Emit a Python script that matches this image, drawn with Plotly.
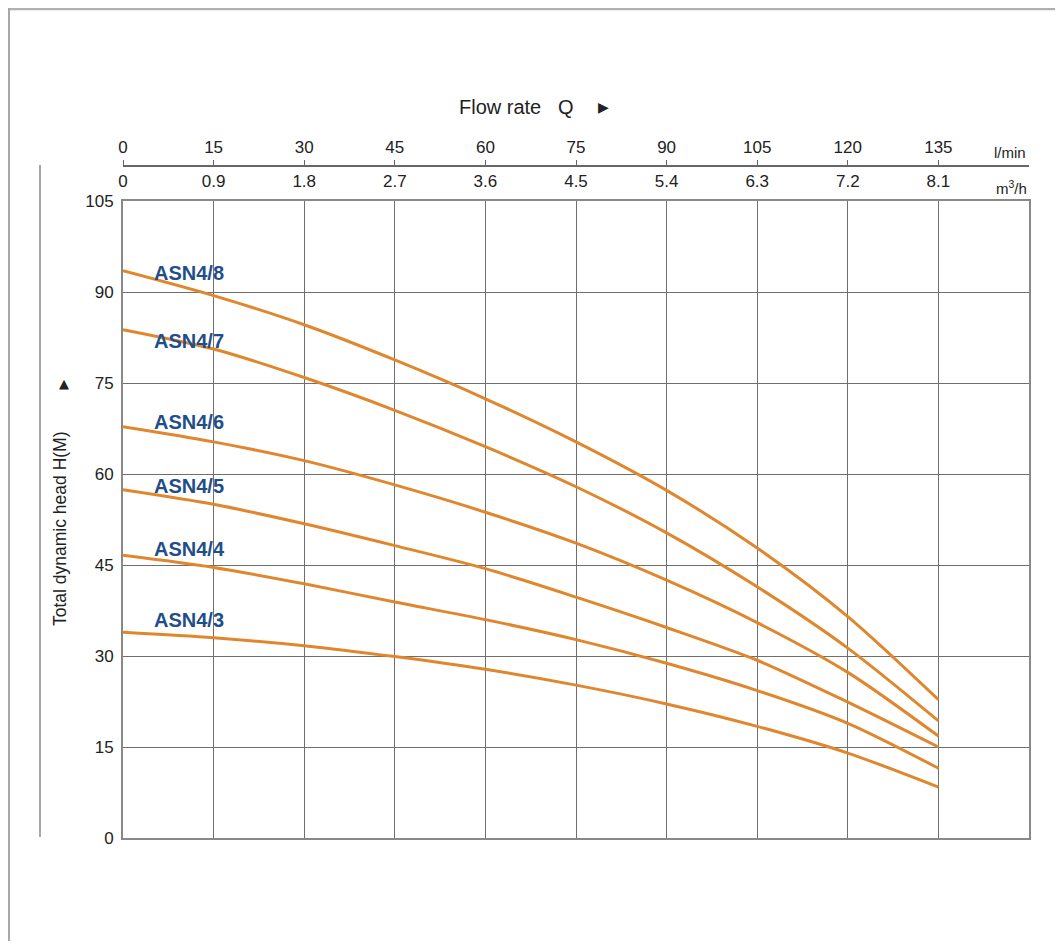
import plotly.graph_objects as go

# ---- data ----
flow_lmin = [0, 15, 30, 45, 60, 75, 90, 105, 120, 135]
flow_m3h_labels = ["0", "0.9", "1.8", "2.7", "3.6", "4.5", "5.4", "6.3", "7.2", "8.1"]
flow_lmin_labels = ["0", "15", "30", "45", "60", "75", "90", "105", "120", "135"]
head_ticks = [0, 15, 30, 45, 60, 75, 90, 105]

models = ["ASN4/8", "ASN4/7", "ASN4/6", "ASN4/5", "ASN4/4", "ASN4/3"]
asn4_8 = [93.5, 89.4, 84.6, 78.8, 72.4, 65.3, 57.3, 47.8, 36.5, 22.8]
asn4_7 = [83.8, 80.6, 75.9, 70.5, 64.5, 57.9, 50.3, 41.4, 31.3, 19.3]
asn4_6 = [67.8, 65.3, 62.2, 58.2, 53.7, 48.6, 42.5, 35.5, 27.3, 16.8]
asn4_5 = [57.4, 55.0, 51.8, 48.2, 44.4, 39.7, 34.7, 29.3, 22.4, 15.0]
asn4_4 = [46.6, 44.6, 41.9, 38.9, 36.0, 32.7, 28.8, 24.3, 18.9, 11.5]
asn4_3 = [33.9, 33.0, 31.7, 29.9, 27.8, 25.2, 22.1, 18.4, 14.0, 8.4]
label_x = 5.6
label_y = [93.2, 82.0, 68.6, 58.1, 47.7, 35.9]

series = [asn4_8, asn4_7, asn4_6, asn4_5, asn4_4, asn4_3]

LINE = "#E0872E"
LABEL = "#1F4E8A"
GRID = "#6f6f6f"
TXT = "#222222"
FONT = "Liberation Sans, Arial, sans-serif"

fig = go.Figure()
for name, ys in zip(models, series):
    fig.add_trace(go.Scatter(x=flow_lmin, y=ys, mode="lines", name=name,
                             line=dict(color=LINE, width=3, shape="spline", smoothing=0.8),
                             showlegend=False, hoverinfo="skip"))
# invisible trace to activate the l/min axis
fig.add_trace(go.Scatter(x=[0], y=[0], xaxis="x2", yaxis="y", mode="lines",
                         line=dict(width=0), showlegend=False, hoverinfo="skip"))

# page body has an 8px margin: the figure starts at page (8, 8)
OFF = 8
W, H = 1063 - 2 * OFF, 949 - 2 * OFF
PL, PR, PT, PB = 123, 1029, 166, 838          # plot-area edges in page pixels
L, T = PL - OFF, PT - OFF
R, B = W - (PR - OFF), H - (PB - OFF)
ph = PB - PT
ydom_top = (PB - 201) / ph

def px(x):
    return (x - PL) / (PR - PL)

def py(y):
    return (PB - y) / ph

annotations = []
for name, yv in zip(models, label_y):
    annotations.append(dict(x=label_x, y=yv, xref="x", yref="y", text="<b>%s</b>" % name,
                            showarrow=False, xanchor="left", yanchor="middle", xshift=-5,
                            font=dict(size=20, color=LABEL, family=FONT)))
annotations += [
    dict(x=px(500), y=py(107), xref="paper", yref="paper", text="Flow rate", showarrow=False,
         xanchor="center", yanchor="middle", font=dict(size=20, color=TXT, family=FONT)),
    dict(x=px(566), y=py(107), xref="paper", yref="paper", text="Q", showarrow=False,
         xanchor="center", yanchor="middle", font=dict(size=20, color=TXT, family=FONT)),
    dict(x=px(603), y=py(107), xref="paper", yref="paper", text="▶", showarrow=False,
         xanchor="center", yanchor="middle", font=dict(size=14, color=TXT, family="DejaVu Sans")),
    dict(x=px(1010), y=py(152), xref="paper", yref="paper", text="l/min", showarrow=False,
         xanchor="center", yanchor="middle", font=dict(size=15, color=TXT, family=FONT)),
    dict(x=px(1011), y=py(187), xref="paper", yref="paper", text="m<sup>3</sup>/h", showarrow=False,
         xanchor="center", yanchor="middle", font=dict(size=15, color=TXT, family=FONT)),
    dict(x=px(60), y=py(529), xref="paper", yref="paper", text="Total dynamic head H(M)",
         showarrow=False, textangle=-90, xanchor="center", yanchor="middle",
         font=dict(size=17.5, color=TXT, family=FONT)),
    dict(x=px(64), y=py(383), xref="paper", yref="paper", text="▲", showarrow=False,
         xanchor="center", yanchor="middle", font=dict(size=13, color=TXT, family="DejaVu Sans")),
]

shapes = [
    dict(type="line", xref="paper", yref="paper", x0=px(40), x1=px(40), y0=py(837), y1=py(165),
         line=dict(color="#888888", width=1.5)),
    dict(type="line", xref="paper", yref="paper", x0=px(OFF), x1=px(1063), y0=py(OFF + 1), y1=py(OFF + 1),
         line=dict(color="#b0b0b0", width=2.5)),
    dict(type="line", xref="paper", yref="paper", x0=px(OFF + 1), x1=px(OFF + 1), y0=py(949), y1=py(OFF),
         line=dict(color="#a8a8a8", width=2)),
]

fig.update_layout(
    width=W, height=H,
    margin=dict(l=L, r=R, t=T, b=B, pad=0),
    paper_bgcolor="white", plot_bgcolor="white",
    font=dict(family=FONT, color=TXT, size=17),
    xaxis=dict(range=[0, 150], tickvals=flow_lmin, ticktext=flow_m3h_labels, side="top",
               showgrid=True, gridcolor=GRID, gridwidth=1, zeroline=False,
               showline=True, mirror=True, linecolor="#888888", linewidth=2,
               ticks="outside", ticklen=5, tickcolor="rgba(0,0,0,0)",
               tickfont=dict(size=17, color=TXT, family=FONT), fixedrange=True),
    xaxis2=dict(range=[0, 150], tickvals=flow_lmin, ticktext=flow_lmin_labels, side="top",
                overlaying="x", anchor="free", position=1,
                showgrid=False, zeroline=False, showline=True, linecolor="#666666", linewidth=1.5,
                ticks="outside", ticklen=5, tickcolor="#666666", tickwidth=1,
                tickfont=dict(size=17, color=TXT, family=FONT), fixedrange=True),
    yaxis=dict(range=[0, 105], tickvals=head_ticks, domain=[0, ydom_top],
               showgrid=True, gridcolor=GRID, gridwidth=1, zeroline=False,
               showline=True, mirror=True, linecolor="#888888", linewidth=2,
               ticks="outside", ticklen=4, tickcolor="rgba(0,0,0,0)",
               tickfont=dict(size=17, color=TXT, family=FONT), fixedrange=True),
    annotations=annotations,
    shapes=shapes,
)

fig.write_html("out.html")
